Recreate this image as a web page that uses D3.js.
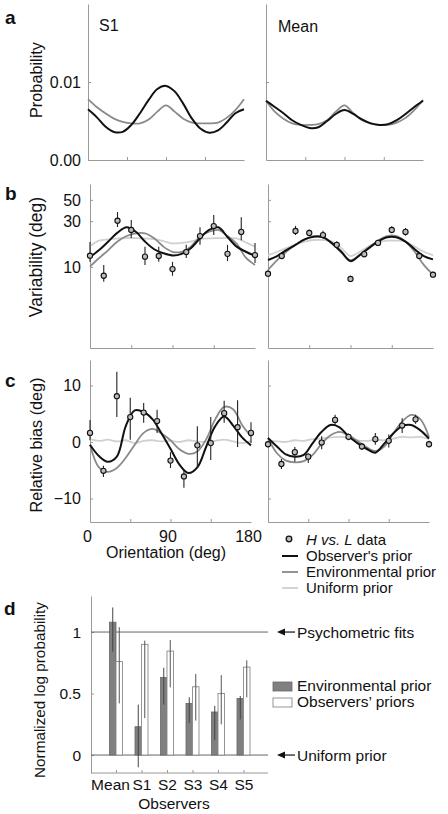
<!DOCTYPE html>
<html><head><meta charset="utf-8">
<script src="https://cdn.jsdelivr.net/npm/d3@7"></script>
<style>
body{margin:0;background:#fff}
text{font-family:"Liberation Sans",Arial,sans-serif;fill:#111}
</style>
</head><body>
<svg id="c" width="448" height="814"></svg>
<script>
// ---------- DATA ----------
const curveDeg = [0,10,20,30,40,50,60,70,80,90,100,110,120,130,140,150,160,170,180];
const dataDeg  = [0,15,30,45,60,75,90,105,120,135,150,165,180];

// panel a : prior probability
const probS1Observer   = [0.0065,0.0055,0.0043,0.0036,0.0036,0.0045,0.0060,0.0077,0.0091,0.0095,0.0088,0.0072,0.0053,0.0040,0.0035,0.0038,0.0048,0.0060,0.0065];
const probS1Env        = [0.0078,0.0068,0.0060,0.0053,0.0049,0.0047,0.0047,0.0052,0.0062,0.0070,0.0062,0.0053,0.0048,0.0047,0.0047,0.0048,0.0054,0.0064,0.0078];
const probMeanObserver = [0.0076,0.0068,0.0060,0.0051,0.0045,0.0041,0.0042,0.0050,0.0059,0.0064,0.0059,0.0052,0.0047,0.0045,0.0046,0.0051,0.0059,0.0068,0.0076];
const probMeanEnv      = [0.0076,0.0062,0.0053,0.0047,0.0045,0.0045,0.0046,0.0051,0.0062,0.0070,0.0060,0.0051,0.0047,0.0045,0.0045,0.0048,0.0054,0.0064,0.0077];

// panel b : variability (deg)
const varS1Data = [13.1,8.1,30.3,24.3,12.8,13.0,9.5,14.3,21.0,26.7,13.7,23.2,13.3];
const varS1Lo   = [11.3,7.0,26.1,20.0,10.5,11.3,8.1,12.4,17.0,21.5,11.5,19.0,11.0];
const varS1Hi   = [18.2,10.5,37.4,30.9,16.2,16.2,11.3,17.0,26.0,34.8,17.0,33.0,17.8];
const varS1Observer = [12.7,15.0,18.4,22.8,25.9,23.3,18.4,15.3,13.9,13.2,13.7,15.7,19.9,24.3,25.9,20.5,16.3,14.4,13.0];
const varS1Env      = [10.1,12.4,15.0,18.4,21.0,22.4,22.4,19.9,16.3,14.4,14.4,16.3,20.7,23.3,24.3,21.0,17.5,12.5,10.5];
const varS1Uniform  = [16.5,18.8,19.4,19.8,20.0,20.0,19.8,19.5,18.6,17.6,17.8,18.4,19.5,19.9,20.0,20.0,19.8,18.0,16.3];
const varMeanData = [8.5,13.0,23.7,22.6,21.5,17.0,7.5,13.6,17.8,24.3,23.2,13.0,8.3];
const varMeanLo   = [7.9,12.2,21.5,21.0,19.8,15.8,7.0,12.6,16.6,22.5,21.2,12.2,7.8];
const varMeanHi   = [9.2,13.9,26.8,24.5,23.8,18.5,8.1,14.8,19.2,26.5,25.5,13.9,8.9];
const varMeanObserver = [11.8,13.0,15.0,17.0,19.4,20.7,20.4,17.6,14.4,11.5,13.3,15.7,18.4,20.4,20.4,18.4,15.3,13.0,12.0];
const varMeanEnv      = [9.3,11.8,14.4,17.0,19.4,21.0,20.4,17.5,14.1,11.8,13.3,16.0,18.8,21.0,21.0,18.4,14.4,10.5,8.3];
const varMeanUniform  = [13.3,14.4,15.7,17.2,18.4,19.1,19.1,18.4,15.7,13.0,14.4,16.3,17.9,18.8,18.8,18.4,16.3,14.4,13.3];

// panel c : relative bias (deg)
const biasS1Data = [1.6,-5.1,8.1,4.4,5.2,3.7,-3.3,-6.1,-0.6,-0.2,5.1,2.6,1.6];
const biasS1Lo   = [0.3,-6.2,4.4,0.4,3.4,1.6,-4.6,-8.1,-4.6,-3.2,3.4,-0.9,-0.2];
const biasS1Hi   = [3.9,-4.2,12.4,7.8,6.9,5.7,-1.8,-5.0,2.8,4.4,7.3,7.4,3.5];
const biasS1Observer = [-0.5,-2.5,-3.5,-2.6,2.8,5.6,5.3,4.0,1.5,-1.2,-4.0,-5.5,-4.5,-0.8,2.8,4.5,2.9,0.8,-0.6];
const biasS1Env      = [-0.5,-4.5,-5.3,-4.6,-2.8,-0.5,1.6,2.3,1.5,0.3,-1.3,-2.1,-1.7,0.5,4.0,6.2,5.8,3.0,1.0];
const biasS1Uniform  = [0.5,0.2,0.4,0.1,0.3,-0.2,0.2,0.3,0.1,0.2,0.0,0.3,0.1,0.0,0.2,0.4,0.1,-0.2,0.2];
const biasMeanData = [-0.4,-3.9,-1.8,-2.6,-0.1,3.9,0.9,-0.8,0.5,0.2,2.9,4.0,-0.4];
const biasMeanLo   = [-1.0,-4.8,-3.5,-3.7,-1.3,3.0,0.3,-1.4,-0.5,-1.0,1.6,3.2,-1.0];
const biasMeanHi   = [0.2,-3.0,-0.9,-2.0,1.0,4.8,1.5,-0.2,1.6,1.3,4.2,4.8,0.2];
const biasMeanObserver = [0.7,-0.8,-2.2,-2.6,-2.3,-0.2,1.8,3.0,2.6,1.0,-0.2,-1.2,-1.9,-0.3,1.5,2.8,3.0,2.1,0.6];
const biasMeanEnv      = [0.7,-2.0,-3.3,-3.6,-3.4,-2.3,-0.3,1.2,1.8,1.2,0.2,-0.9,-1.6,-0.8,1.5,3.6,4.8,4.1,0.9];
const biasMeanUniform  = [0.2,0.1,0.0,0.3,0.2,0.5,0.6,0.8,0.9,0.7,0.3,0.2,0.4,0.3,0.6,0.9,0.8,0.9,0.5];

// panel d : normalized log probability
const observers  = ["Mean","S1","S2","S3","S4","S5"];
const envProb    = [1.08,0.23,0.63,0.42,0.35,0.46];
const envLo      = [0.84,-0.10,0.41,0.26,0.12,0.29];
const envHi      = [1.20,0.41,0.71,0.47,0.40,0.48];
const obsProb    = [0.76,0.90,0.845,0.555,0.50,0.715];
const obsLo      = [0.42,0.30,0.55,0.28,0.25,0.47];
const obsHi      = [1.04,0.93,0.935,0.66,0.65,0.77];

// tick values
const probTicks = [0, 0.01];
const varTicks  = [10, 30, 50];
const biasTicks = [-10, 0, 10];
const oriTicks  = [0, 45, 90, 135, 180];
const oriLabels = [0, 90, 180];
const dTicks    = [0, 0.5, 1];

// ---------- DRAW ----------
const svg = d3.select('#c');
const AX = '#9a9a9a';
const ST = {
  obs: {c:'#111', w:2},
  env: {c:'#8a8a8a', w:1.8},
  uni: {c:'#d0d0d0', w:1.8}
};

function styleAxis(g, fs){
  g.attr('font-family', null).attr('font-size', null);
  g.select('.domain').attr('stroke', AX).attr('stroke-width', 1);
  g.selectAll('.tick line').attr('stroke', AX);
  g.selectAll('.tick text').style('font-size', fs + 'px').attr('fill', '#111');
}

function panelAxes(xs, ys, yTicks, yFmt, yPad, withLabels, xLabelVals) {
  const [y0] = ys.range();
  const [x0] = xs.range();
  const ya = d3.axisLeft(ys).tickValues(yTicks).tickSize(-3).tickSizeOuter(0).tickPadding(yPad)
    .tickFormat(withLabels ? yFmt : () => '');
  const gy = svg.append('g').attr('transform', `translate(${x0},0)`).call(ya);
  styleAxis(gy, 16);
  const xa = d3.axisBottom(xs).tickValues(oriTicks.slice(1, 4)).tickSize(-3).tickSizeOuter(0).tickFormat(() => '');
  const gx = svg.append('g').attr('transform', `translate(0,${y0})`).call(xa);
  styleAxis(gx, 16);
  if (xLabelVals) {
    const xl = d3.axisBottom(xs).tickValues(xLabelVals).tickSize(0).tickPadding(8.6);
    const gl = svg.append('g').attr('transform', `translate(0,${y0})`).call(xl);
    gl.select('.domain').remove();
    styleAxis(gl, 16);
    gl.selectAll('.tick text').attr('dx', -3);
  }
}

function curve(xs, ys, vals, st) {
  svg.append('path')
    .datum(vals.map((v, i) => [curveDeg[i], v]))
    .attr('d', d3.line().x(d => xs(d[0])).y(d => ys(d[1])).curve(d3.curveCatmullRom.alpha(0.5)))
    .attr('fill', 'none').attr('stroke', st.c).attr('stroke-width', st.w)
    .attr('stroke-linejoin', 'round');
}

function points(xs, ys, vals, lo, hi) {
  const g = svg.append('g');
  g.selectAll('line').data(vals).join('line')
    .attr('x1', (d, i) => xs(dataDeg[i])).attr('x2', (d, i) => xs(dataDeg[i]))
    .attr('y1', (d, i) => ys(lo[i])).attr('y2', (d, i) => ys(hi[i]))
    .attr('stroke', '#222').attr('stroke-width', 1.1);
  g.selectAll('circle').data(vals).join('circle')
    .attr('cx', (d, i) => xs(dataDeg[i])).attr('cy', d => ys(d)).attr('r', 2.6)
    .attr('fill', '#bdbdbd').attr('stroke', '#111').attr('stroke-width', 1.1);
}

function panelLetter(t, x, y) {
  svg.append('text').attr('x', x).attr('y', y).text(t)
    .style('font-size', '19px').style('font-weight', 'bold');
}
function yLabel(t, x, y, fs) {
  svg.append('text').attr('transform', `translate(${x},${y}) rotate(-90)`)
    .attr('text-anchor', 'middle').style('font-size', fs + 'px').text(t);
}

// ----- panel a -----
const yA = d3.scaleLinear().domain([0, 0.02]).range([160, 4]);
const xA1 = d3.scaleLinear().domain([0, 180]).range([88, 244]);
const xA2 = d3.scaleLinear().domain([0, 180]).range([266, 423]);
panelAxes(xA1, yA, probTicks, d3.format('.2f'), 7, true, null);
panelAxes(xA2, yA, [0.01], d3.format('.2f'), 7, false, null);
curve(xA1, yA, probS1Env, ST.env);
curve(xA1, yA, probS1Observer, ST.obs);
curve(xA2, yA, probMeanEnv, ST.env);
curve(xA2, yA, probMeanObserver, ST.obs);
panelLetter('a', 5, 24);
yLabel('Probability', 42, 80, 16.3);
svg.append('text').attr('x', 99).attr('y', 31).style('font-size', '16px').text('S1');
svg.append('text').attr('x', 278).attr('y', 32).style('font-size', '16px').text('Mean');

// ----- panel b -----
const yB = d3.scaleLog().domain([1.43, 73.2]).range([348, 184]);
const xB1 = d3.scaleLinear().domain([0, 180]).range([90, 255]);
const xB2 = d3.scaleLinear().domain([0, 180]).range([268, 433]);
panelAxes(xB1, yB, varTicks, d3.format('d'), 9, true, null);
panelAxes(xB2, yB, varTicks, d3.format('d'), 9, false, null);
curve(xB1, yB, varS1Uniform, ST.uni);
curve(xB1, yB, varS1Env, ST.env);
curve(xB1, yB, varS1Observer, ST.obs);
points(xB1, yB, varS1Data, varS1Lo, varS1Hi);
curve(xB2, yB, varMeanUniform, ST.uni);
curve(xB2, yB, varMeanEnv, ST.env);
curve(xB2, yB, varMeanObserver, ST.obs);
points(xB2, yB, varMeanData, varMeanLo, varMeanHi);
panelLetter('b', 5, 200);
yLabel('Variability (deg)', 42, 257, 17.5);

// ----- panel c -----
const yC = d3.scaleLinear().domain([-14.16, 14.5]).range([522, 360]);
const xC1 = d3.scaleLinear().domain([0, 180]).range([90, 251]);
const xC2 = d3.scaleLinear().domain([0, 180]).range([268, 429]);
panelAxes(xC1, yC, biasTicks, d3.format('d'), 9, true, oriLabels);
panelAxes(xC2, yC, biasTicks, d3.format('d'), 9, false, null);
curve(xC1, yC, biasS1Uniform, ST.uni);
curve(xC1, yC, biasS1Env, ST.env);
curve(xC1, yC, biasS1Observer, ST.obs);
points(xC1, yC, biasS1Data, biasS1Lo, biasS1Hi);
curve(xC2, yC, biasMeanUniform, ST.uni);
curve(xC2, yC, biasMeanEnv, ST.env);
curve(xC2, yC, biasMeanObserver, ST.obs);
points(xC2, yC, biasMeanData, biasMeanLo, biasMeanHi);
panelLetter('c', 5, 387);
yLabel('Relative bias (deg)', 42, 445, 16.2);
svg.append('text').attr('x', 166).attr('y', 558).attr('text-anchor', 'middle')
  .style('font-size', '16px').text('Orientation (deg)');

// legend b/c
svg.append('circle').attr('cx', 289).attr('cy', 539).attr('r', 2.8)
  .attr('fill', '#bdbdbd').attr('stroke', '#111').attr('stroke-width', 1.3);
const lt = svg.append('text').attr('x', 306).attr('y', 544.5).style('font-size', '15px');
lt.append('tspan').style('font-style', 'italic').text('H vs. L');
lt.append('tspan').text(' data');
[['Observer\'s prior', ST.obs, 556], ['Environmental prior', ST.env, 572], ['Uniform prior', ST.uni, 588]]
  .forEach(([t, st, yy]) => {
    svg.append('line').attr('x1', 282).attr('x2', 298).attr('y1', yy).attr('y2', yy)
      .attr('stroke', st.c).attr('stroke-width', st.w);
    svg.append('text').attr('x', 306).attr('y', yy + 5).style('font-size', '15px').text(t);
  });

// ----- panel d -----
const yD = d3.scaleLinear().domain([-0.146, 1.293]).range([773, 596]);
const xD = d3.scalePoint().domain(observers).range([116, 243.5]);
const bw = 6.5;
const gyD = svg.append('g').attr('transform', 'translate(91,0)')
  .call(d3.axisLeft(yD).tickValues(dTicks).tickSize(-3).tickSizeOuter(0).tickPadding(10).tickFormat(d3.format('')));
styleAxis(gyD, 15.5);
const gxD = svg.append('g').attr('transform', 'translate(0,773)')
  .call(d3.axisBottom(xD).tickSize(-3).tickSizeOuter(0).tickPadding(6.4));
gxD.select('.domain').attr('d', 'M91,0H268');
styleAxis(gxD, 15.5);
gxD.selectAll('.tick text').filter(d => d === 'Mean').attr('dx', -6);

// reference lines
[1, 0].forEach(v => {
  svg.append('line').attr('x1', 91).attr('x2', 268).attr('y1', yD(v)).attr('y2', yD(v))
    .attr('stroke', '#666').attr('stroke-width', 1);
});
// bars
svg.append('g').selectAll('rect').data(envProb).join('rect')
  .attr('x', (d, i) => xD(observers[i]) - bw).attr('width', bw)
  .attr('y', d => yD(d)).attr('height', d => yD(0) - yD(d))
  .attr('fill', '#808080').attr('stroke', '#666').attr('stroke-width', 0.8);
svg.append('g').selectAll('rect').data(obsProb).join('rect')
  .attr('x', (d, i) => xD(observers[i])).attr('width', bw)
  .attr('y', d => yD(d)).attr('height', d => yD(0) - yD(d))
  .attr('fill', '#fff').attr('stroke', '#8a8a8a').attr('stroke-width', 0.9);
// error bars
svg.append('g').selectAll('line').data(envProb).join('line')
  .attr('x1', (d, i) => xD(observers[i]) - bw / 2).attr('x2', (d, i) => xD(observers[i]) - bw / 2)
  .attr('y1', (d, i) => yD(envLo[i])).attr('y2', (d, i) => yD(envHi[i]))
  .attr('stroke', '#444').attr('stroke-width', 1);
svg.append('g').selectAll('line').data(obsProb).join('line')
  .attr('x1', (d, i) => xD(observers[i]) + bw / 2).attr('x2', (d, i) => xD(observers[i]) + bw / 2)
  .attr('y1', (d, i) => yD(obsLo[i])).attr('y2', (d, i) => yD(obsHi[i]))
  .attr('stroke', '#555').attr('stroke-width', 1);

panelLetter('d', 4, 615);
yLabel('Normalized log probability', 45, 690, 15.3);
svg.append('text').attr('x', 174).attr('y', 809).attr('text-anchor', 'middle')
  .style('font-size', '15.5px').text('Observers');

// arrows
[[1, 'Psychometric fits'], [0, 'Uniform prior']].forEach(([v, t]) => {
  const yy = yD(v);
  svg.append('path').attr('d', `M277,${yy}L285,${yy - 3.5}L285,${yy + 3.5}Z`).attr('fill', '#111');
  svg.append('line').attr('x1', 284).attr('x2', 295).attr('y1', yy).attr('y2', yy)
    .attr('stroke', '#111').attr('stroke-width', 1.2);
  svg.append('text').attr('x', 297).attr('y', yy + 6).style('font-size', '15.5px').text(t);
});
// legend d
svg.append('rect').attr('x', 273).attr('y', 682).attr('width', 19).attr('height', 9)
  .attr('fill', '#808080').attr('stroke', '#666').attr('stroke-width', 0.8);
svg.append('text').attr('x', 297).attr('y', 691).style('font-size', '15.5px').text('Environmental prior');
svg.append('rect').attr('x', 273).attr('y', 698).attr('width', 19).attr('height', 9)
  .attr('fill', '#fff').attr('stroke', '#8a8a8a').attr('stroke-width', 0.9);
svg.append('text').attr('x', 297).attr('y', 707).style('font-size', '15.5px').text('Observers\u2019 priors');
</script>
</body></html>
